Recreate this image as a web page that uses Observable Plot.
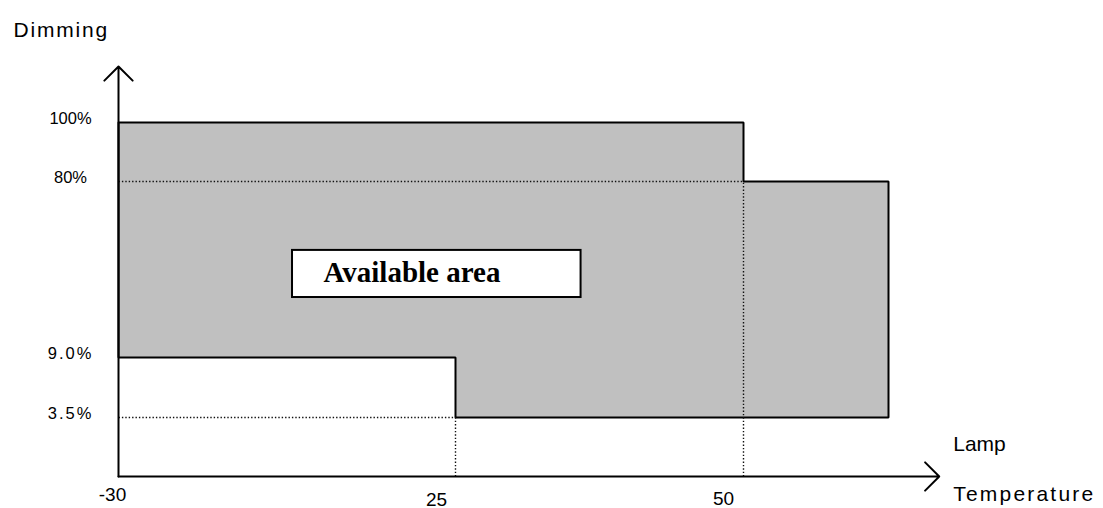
<!DOCTYPE html>
<html><head><meta charset="utf-8">
<script src="https://cdn.jsdelivr.net/npm/d3@7"></script>
<script src="https://cdn.jsdelivr.net/npm/@observablehq/plot@0.6"></script>
<style>body{margin:0;background:#fff;} svg{display:block;}</style>
</head><body><div id="chart"></div>
<script>
// ---- Data ----
const temps = [-30, 25, 50, 60];          // lamp temperature breakpoints (last one estimated)
const upperDim = [100, 100, 80];          // max dimming (%) per temperature segment
const lowerDim = [9.0, 3.5, 3.5];         // min dimming (%) per temperature segment
const xTickValues = [-30, 25, 50];
const xTickLabels = ["-30", "25", "50"];
const yTickValues = [100, 80, 9.0, 3.5];
const yTickLabels = ["100%", "80%", "9.0%", "3.5%"];
const xAxisEnd = 63.5;
const yAxisEnd = 119;
const yTitle = "Dimming";
const xTitleLines = ["Lamp", "Temperature"];
const areaLabel = "Available area";
const labelBox = [{x1: -1.6, x2: 35.9, y1: 33.2, y2: 52.2}];

// ---- Derived geometry ----
const poly = [];
for (let i = 0; i < upperDim.length; i++) poly.push({t: temps[i], d: upperDim[i]}, {t: temps[i + 1], d: upperDim[i]});
for (let i = lowerDim.length - 1; i >= 0; i--) poly.push({t: temps[i + 1], d: lowerDim[i]}, {t: temps[i], d: lowerDim[i]});
poly.push(poly[0]);

const guides = [];
for (let i = 1; i < upperDim.length; i++) {
  if (upperDim[i] !== upperDim[i - 1]) guides.push({t: temps[i], d: Math.min(upperDim[i], upperDim[i - 1])});
  if (lowerDim[i] !== lowerDim[i - 1]) guides.push({t: temps[i], d: Math.min(lowerDim[i], lowerDim[i - 1])});
}
const hGuides = guides.map(g => ({x1: temps[0], x2: g.t, y1: g.d, y2: g.d}));
const vGuides = guides.map(g => ({x1: g.t, x2: g.t, y1: 0, y2: g.d}));
const axes = [
  {x1: temps[0], y1: 0, x2: xAxisEnd, y2: 0},
  {x1: temps[0], y1: 0, x2: temps[0], y2: yAxisEnd}
];

// schematic (piecewise-linear) axes, as in the original drawing
const xPiece = d3.scaleLinear().domain([-30, 25, 50, 60]).range([118, 455, 743, 888]);
const yPiece = d3.scaleLinear().domain([0, 3.5, 9, 80, 100]).range([476, 417, 357, 181, 122]);

const sans = "Liberation Sans, Arial, sans-serif";
const xNudge = [[-6, 18], [-19, 23], [-20, 22]];

const marks = [
  Plot.line(poly, {x: "t", y: "d", fill: "#c0c0c0", stroke: "#000", strokeWidth: 2, strokeLinejoin: "miter"}),
  Plot.link(hGuides, {x1: "x1", x2: "x2", y1: "y1", y2: "y2", stroke: "#111", strokeWidth: 1.4, strokeDasharray: "1.4,2"}),
  Plot.link(vGuides, {x1: "x1", x2: "x2", y1: "y1", y2: "y2", stroke: "#111", strokeWidth: 1.4, strokeDasharray: "1.4,2"}),
  Plot.arrow(axes, {x1: "x1", y1: "y1", x2: "x2", y2: "y2", stroke: "#000", strokeWidth: 2, headAngle: 90, headLength: 15}),
  Plot.rect(labelBox, {x1: "x1", x2: "x2", y1: "y1", y2: "y2", fill: "#fff", stroke: "#000", strokeWidth: 2}),
  Plot.text([areaLabel], {x: labelBox[0].x1, y: (labelBox[0].y1 + labelBox[0].y2) / 2, text: d => d, textAnchor: "start", dx: 31, dy: -1.5,
    fontFamily: "Liberation Serif, Times New Roman, serif", fontWeight: "bold", fontSize: 29, fill: "#000"}),
  Plot.text(yTickValues, {x: temps[0], y: d => d, text: (d, i) => yTickLabels[i], textAnchor: "middle", dx: -48, dy: -4,
    fontFamily: sans, fontSize: 16.5, fill: "#000"}),
  ...xTickValues.map((v, i) => Plot.text([v], {x: d => d, y: 0, text: () => xTickLabels[i], textAnchor: "middle",
    dx: xNudge[i][0], dy: xNudge[i][1], fontFamily: sans, fontSize: 19, fill: "#000"})),
  Plot.text([yTitle], {frameAnchor: "top-left", text: d => d, dx: 13, dy: 30, lineAnchor: "middle", textAnchor: "start",
    fontFamily: sans, fontSize: 21, fill: "#000"}),
  Plot.text([xTitleLines[0]], {x: xAxisEnd, y: 0, text: d => d, textAnchor: "start", dx: 14, dy: -32,
    fontFamily: sans, fontSize: 21, fill: "#000"}),
  Plot.text([xTitleLines[1]], {x: xAxisEnd, y: 0, text: d => d, textAnchor: "start", dx: 14, dy: 18,
    fontFamily: sans, fontSize: 21, fill: "#000"})
];

const chart = Plot.plot({
  width: 1103,
  height: 508,
  margin: 0,
  style: {background: "#fff", overflow: "visible"},
  x: {transform: xPiece, domain: [0, 1103], range: [0, 1103], axis: null},
  y: {transform: yPiece, domain: [0, 508], range: [0, 508], axis: null},
  marks
});
document.getElementById("chart").appendChild(chart);

// letter spacing for the spaced-out labels
d3.select(chart).selectAll("text").each(function () {
  const t = this.textContent;
  if (t === yTitle) this.style.letterSpacing = "1.8px";
  if (t === xTitleLines[1]) this.style.letterSpacing = "2.2px";
  if (t === "9.0%" || t === "3.5%") this.style.letterSpacing = "2px";
});
</script>
</body></html>
